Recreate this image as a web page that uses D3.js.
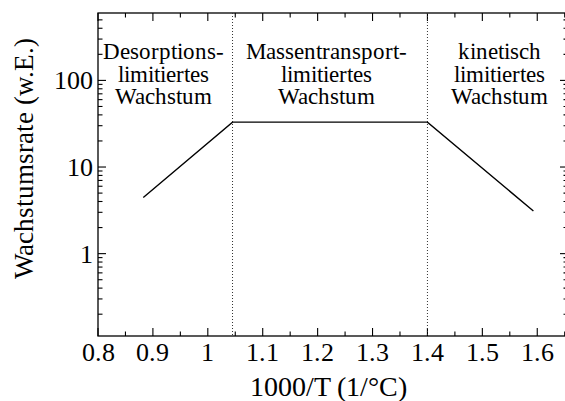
<!DOCTYPE html>
<html>
<head>
<meta charset="utf-8">
<script src="https://cdn.jsdelivr.net/npm/d3@7"></script>
<style>
  @font-face {
    font-family: 'ChartSerif';
    src: local('Liberation Serif'), local('LiberationSerif'), local('LiberationSerif-Regular'), local('Times New Roman');
  }
  html, body { margin: 0; padding: 0; background: #fff; }
  svg { display: block; }
</style>
</head>
<body>
<svg id="chart" width="565" height="401"></svg>
<script>
// Growth-rate regimes vs. inverse temperature
const rateX = [0.8825, 1.045, 1.40, 1.593];
const rateY = [4.45, 33, 33, 3.1];
const regimeBounds = [1.045, 1.40];
const regimeCenters = [0.919, 1.217, 1.532];
const regimeLabels = [
  ["Desorptions-", "limitiertes", "Wachstum"],
  ["Massentransport-", "limitiertes", "Wachstum"],
  ["kinetisch", "limitiertes", "Wachstum"]
];
const xTicks = [0.8, 0.9, 1.0, 1.1, 1.2, 1.3, 1.4, 1.5, 1.6];
const xTickLabels = ["0.8", "0.9", "1", "1.1", "1.2", "1.3", "1.4", "1.5", "1.6"];
const yTicks = [1, 10, 100];
const yTickLabels = ["1", "10", "100"];
const xLabel = "1000/T (1/°C)";
const yLabel = "Wachstumsrate (w.E.)";

const FONT = "'ChartSerif', 'Liberation Serif', 'Times New Roman', serif";

const svg = d3.select("#chart");
const margin = { left: 98, top: 13, right: 568, bottom: 336 };

const x = d3.scaleLinear().domain([0.8, 1.656]).range([margin.left, margin.right]);
const y = d3.scaleLog().domain([0.112, 600]).range([margin.bottom, margin.top]);

const majorLen = 8, minorLen = 4.5;
const xMinor = d3.range(0.85, 1.66, 0.1);
const yMinor = [];
[0.1, 1, 10, 100].forEach(d => {
  for (let k = 2; k <= 9; k++) {
    const v = d * k;
    if (v > 0.112 && v < 600) yMinor.push(v);
  }
});

const g = svg.append("g").attr("stroke", "#000").attr("fill", "none");

// frame
g.append("rect")
  .attr("x", margin.left).attr("y", margin.top)
  .attr("width", margin.right - margin.left)
  .attr("height", margin.bottom - margin.top)
  .attr("stroke-width", 1.3);

// x ticks, bottom and top, pointing inward
xTicks.forEach(v => {
  g.append("line").attr("x1", x(v)).attr("x2", x(v))
    .attr("y1", margin.bottom).attr("y2", margin.bottom - majorLen);
  g.append("line").attr("x1", x(v)).attr("x2", x(v))
    .attr("y1", margin.top).attr("y2", margin.top + majorLen);
});
xMinor.forEach(v => {
  g.append("line").attr("x1", x(v)).attr("x2", x(v))
    .attr("y1", margin.bottom).attr("y2", margin.bottom - minorLen);
  g.append("line").attr("x1", x(v)).attr("x2", x(v))
    .attr("y1", margin.top).attr("y2", margin.top + minorLen);
});
// y ticks, left and right
yTicks.forEach(v => {
  g.append("line").attr("y1", y(v)).attr("y2", y(v))
    .attr("x1", margin.left).attr("x2", margin.left + majorLen);
  g.append("line").attr("y1", y(v)).attr("y2", y(v))
    .attr("x1", margin.right).attr("x2", margin.right - majorLen);
});
yMinor.forEach(v => {
  g.append("line").attr("y1", y(v)).attr("y2", y(v))
    .attr("x1", margin.left).attr("x2", margin.left + minorLen);
  g.append("line").attr("y1", y(v)).attr("y2", y(v))
    .attr("x1", margin.right).attr("x2", margin.right - minorLen);
});
g.selectAll("line").attr("stroke-width", 1.1);

// regime boundaries
regimeBounds.forEach(v => {
  svg.append("line")
    .attr("x1", x(v)).attr("x2", x(v))
    .attr("y1", margin.top).attr("y2", margin.bottom)
    .attr("stroke", "#333").attr("stroke-width", 1)
    .attr("stroke-dasharray", "1,2");
});

// rate curve
const line = d3.line().x((d, i) => x(rateX[i])).y(d => y(d));
svg.append("path")
  .datum(rateY)
  .attr("d", line)
  .attr("fill", "none")
  .attr("stroke", "#000")
  .attr("stroke-width", 1.4);

// tick labels
svg.append("g").selectAll("text").data(xTicks).join("text")
  .attr("x", d => x(d)).attr("y", 361)
  .attr("text-anchor", "middle")
  .style("font-family", FONT)
  .style("font-size", "26px")
  .text((d, i) => xTickLabels[i]);
svg.append("g").selectAll("text").data(yTicks).join("text")
  .attr("x", 93).attr("y", d => y(d) + 9)
  .attr("text-anchor", "end")
  .style("font-family", FONT)
  .style("font-size", "26px")
  .text((d, i) => yTickLabels[i]);

// axis titles
svg.append("text")
  .attr("x", 328).attr("y", 396)
  .attr("text-anchor", "middle")
  .style("font-family", FONT)
  .style("font-size", "28px")
  .text(xLabel);
svg.append("text")
  .attr("transform", "translate(33,158) rotate(-90)")
  .attr("text-anchor", "middle")
  .style("font-family", FONT)
  .style("font-size", "26.5px")
  .text(yLabel);

// regime annotations
regimeLabels.forEach((lines, i) => {
  const t = svg.append("text")
    .attr("text-anchor", "middle")
    .style("font-family", FONT)
    .style("font-size", "22.5px");
  lines.forEach((s, j) => {
    t.append("tspan")
      .attr("x", x(regimeCenters[i]))
      .attr("y", 59 + j * 22.5)
      .text(s);
  });
});
</script>
</body>
</html>
